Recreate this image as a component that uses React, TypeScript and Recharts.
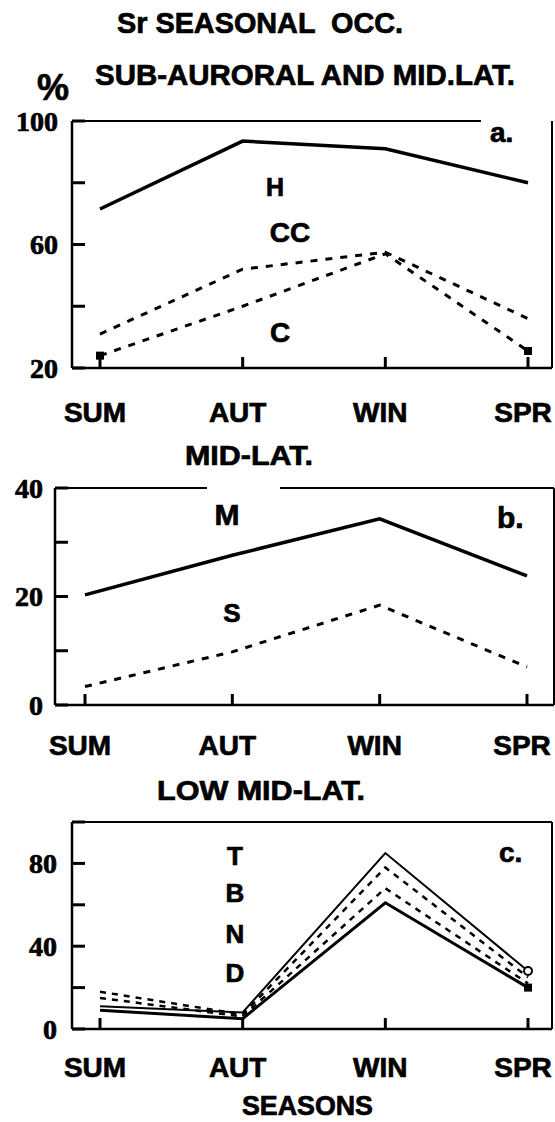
import React from 'react';
import { LineChart, Line, XAxis, YAxis } from 'recharts';

const seasons = ['SUM', 'AUT', 'WIN', 'SPR'];

// Panel a: sub-auroral and mid-lat (%)
const hValues = [71.5, 93.5, 91, 80];
const ccValues = [31, 52, 57.5, 36];
const cValues = [24, 40, 57, 25.5];
const aTicks = [20, 40, 60, 80, 100];
const aTickLabels = [20, 60, 100];

// Panel b: mid-lat
const mValues = [20.3, 27.6, 34.3, 23.8];
const sValues = [3.4, 9.8, 18.4, 7];
const bTicks = [0, 10, 20, 30, 40];
const bTickLabels = [0, 20, 40];

// Panel c: low mid-lat
const tValues = [11, 8, 85, 28];
const bValues = [18, 7, 78, 25];
const nValues = [15, 6, 68, 22];
const dValues = [9, 5, 61, 20];
const cTicks = [0, 20, 40, 60, 80, 100];
const cTickLabels = [0, 40, 80];

const dataA = seasons.map((s, i) => ({ season: s, H: hValues[i], CC: ccValues[i], C: cValues[i] }));
const dataB = seasons.map((s, i) => ({ season: s, M: mValues[i], S: sValues[i] }));
const dataC = seasons.map((s, i) => ({ season: s, T: tValues[i], B: bValues[i], N: nValues[i], D: dValues[i] }));

const SANS = '"Liberation Sans", Arial, Helvetica, sans-serif';
const SERIF = '"Liberation Serif", "Times New Roman", serif';
const HEAVY = { stroke: '#000', strokeWidth: 0.7, paintOrder: 'stroke' } as const;

const makeXTick = (baseline: number) => (props: any) => {
  const { x, y, payload } = props;
  return (
    <g>
      <line x1={x} x2={x} y1={y} y2={y - 11} stroke="#000" strokeWidth={3} />
      <text x={x - 5} y={y + baseline} textAnchor="middle" fontFamily={SANS} fontWeight="bold" fontSize={28} fill="#000" {...HEAVY}>
        {payload.value}
      </text>
    </g>
  );
};

const makeYTick = (labels: number[], gap: number) => (props: any) => {
  const { x, y, payload } = props;
  const show = labels.includes(payload.value);
  return (
    <g>
      <line x1={x} x2={x + 13} y1={y} y2={y} stroke="#000" strokeWidth={3} />
      {show && (
        <text x={x - gap} y={y} dy="0.34em" textAnchor="end" fontFamily={SERIF} fontWeight="bold" fontSize={28} fill="#000" {...HEAVY}>
          {payload.value}
        </text>
      )}
    </g>
  );
};

const squareDot = (which: number[]) => (props: any) => {
  const { cx, cy, index } = props;
  if (!which.includes(index)) return <g key={`d${index}`} />;
  return <rect key={`d${index}`} x={cx - 4} y={cy - 4} width={8} height={8} fill="#000" />;
};

const circleDot = (which: number[]) => (props: any) => {
  const { cx, cy, index } = props;
  if (!which.includes(index)) return <g key={`c${index}`} />;
  return <circle key={`c${index}`} cx={cx} cy={cy} r={4} fill="#fff" stroke="#000" strokeWidth={2} />;
};

const axisLineStyle = { stroke: '#000', strokeWidth: 2.5 };

export default function App() {
  return (
    <div style={{ position: 'absolute', left: 0, top: 0, width: 555, height: 1122, background: '#fff', overflow: 'hidden' }}>
      {/* Panel a */}
      <div style={{ position: 'absolute', left: 0, top: 100 }}>
        <LineChart width={555} height={330} data={dataA} margin={{ top: 21, right: 3, bottom: 0, left: 0 }}>
          <XAxis dataKey="season" padding={{ left: 28, right: 24 }} height={62} tickLine={false} tickSize={0} tickMargin={0}
            axisLine={axisLineStyle} interval={0} tick={makeXTick(54)} />
          <YAxis type="number" domain={[20, 100]} ticks={aTicks} width={72} tickLine={false} tickSize={0} tickMargin={0}
            axisLine={axisLineStyle} interval={0} tick={makeYTick(aTickLabels, 14)} />
          <Line dataKey="H" type="linear" stroke="#000" strokeWidth={3.5} dot={false} isAnimationActive={false} />
          <Line dataKey="CC" type="linear" stroke="#000" strokeWidth={3} strokeDasharray="7 8" dot={false} isAnimationActive={false} />
          <Line dataKey="C" type="linear" stroke="#000" strokeWidth={3} strokeDasharray="7 8" dot={squareDot([0, 3])} isAnimationActive={false} />
        </LineChart>
      </div>

      {/* Panel b */}
      <div style={{ position: 'absolute', left: 0, top: 470 }}>
        <LineChart width={555} height={300} data={dataB} margin={{ top: 18, right: 1, bottom: 0, left: 0 }}>
          <XAxis dataKey="season" padding={{ left: 30, right: 27 }} height={65} tickLine={false} tickSize={0} tickMargin={0}
            axisLine={axisLineStyle} interval={0} tick={makeXTick(50)} />
          <YAxis type="number" domain={[0, 40]} ticks={bTicks} width={55} tickLine={false} tickSize={0} tickMargin={0}
            axisLine={axisLineStyle} interval={0} tick={makeYTick(bTickLabels, 12)} />
          <Line dataKey="M" type="linear" stroke="#000" strokeWidth={3.5} dot={false} isAnimationActive={false} />
          <Line dataKey="S" type="linear" stroke="#000" strokeWidth={3} strokeDasharray="7 8" dot={false} isAnimationActive={false} />
        </LineChart>
      </div>

      {/* Panel c */}
      <div style={{ position: 'absolute', left: 0, top: 800 }}>
        <LineChart width={555} height={322} data={dataC} margin={{ top: 22, right: 3, bottom: 0, left: 0 }}>
          <XAxis dataKey="season" padding={{ left: 28, right: 24 }} height={93} tickLine={false} tickSize={0} tickMargin={0}
            axisLine={axisLineStyle} interval={0} tick={makeXTick(48)} />
          <YAxis type="number" domain={[0, 100]} ticks={cTicks} width={72} tickLine={false} tickSize={0} tickMargin={0}
            axisLine={axisLineStyle} interval={0} tick={makeYTick(cTickLabels, 15)} />
          <Line dataKey="T" type="linear" stroke="#000" strokeWidth={2} dot={circleDot([3])} isAnimationActive={false} />
          <Line dataKey="B" type="linear" stroke="#000" strokeWidth={2.5} strokeDasharray="6 6" dot={false} isAnimationActive={false} />
          <Line dataKey="N" type="linear" stroke="#000" strokeWidth={2.5} strokeDasharray="6 6" dot={false} isAnimationActive={false} />
          <Line dataKey="D" type="linear" stroke="#000" strokeWidth={3} dot={squareDot([3])} isAnimationActive={false} />
        </LineChart>
      </div>

      {/* Frame borders, titles and annotations */}
      <svg width={555} height={1122} style={{ position: 'absolute', left: 0, top: 0, pointerEvents: 'none' }}>
        <g stroke="#000" strokeWidth={2}>
          <line x1={72} x2={481} y1={121} y2={121} />
          <line x1={552} x2={552} y1={121} y2={368} />
          <line x1={55} x2={207} y1={488} y2={488} />
          <line x1={280} x2={554} y1={488} y2={488} />
          <line x1={554} x2={554} y1={488} y2={705} />
          <line x1={72} x2={552} y1={822} y2={822} />
          <line x1={552} x2={552} y1={822} y2={1029} />
        </g>
        <g fontFamily={SANS} fontWeight="bold" fill="#000" {...HEAVY}>
          <text x={117} y={33} fontSize={29} textLength={286} lengthAdjust="spacingAndGlyphs" style={{ whiteSpace: 'pre' }}>Sr SEASONAL  OCC.</text>
          <text x={95} y={85} fontSize={29} textLength={420} lengthAdjust="spacingAndGlyphs">SUB-AURORAL AND MID.LAT.</text>
          <text x={53} y={100} fontSize={36} textAnchor="middle">%</text>
          <text x={185} y={465} fontSize={28} textLength={128} lengthAdjust="spacingAndGlyphs">MID-LAT.</text>
          <text x={157} y={800} fontSize={28} textLength={208} lengthAdjust="spacingAndGlyphs">LOW MID-LAT.</text>
          <text x={242} y={1115} fontSize={27} textLength={131} lengthAdjust="spacingAndGlyphs">SEASONS</text>

          <text x={275} y={196} fontSize={25} textAnchor="middle">H</text>
          <text x={290} y={242} fontSize={28} textAnchor="middle">CC</text>
          <text x={280} y={342} fontSize={28} textAnchor="middle">C</text>
          <text x={490} y={142} fontSize={28}>a.</text>

          <text x={227} y={525} fontSize={30} textAnchor="middle">M</text>
          <text x={232} y={622} fontSize={26} textAnchor="middle">S</text>
          <text x={497} y={528} fontSize={30}>b.</text>

          <text x={235} y={865} fontSize={26} textAnchor="middle">T</text>
          <text x={235} y={902} fontSize={26} textAnchor="middle">B</text>
          <text x={235} y={943} fontSize={26} textAnchor="middle">N</text>
          <text x={235} y={982} fontSize={26} textAnchor="middle">D</text>
          <text x={499} y={862} fontSize={28}>c.</text>
        </g>
      </svg>
    </div>
  );
}
